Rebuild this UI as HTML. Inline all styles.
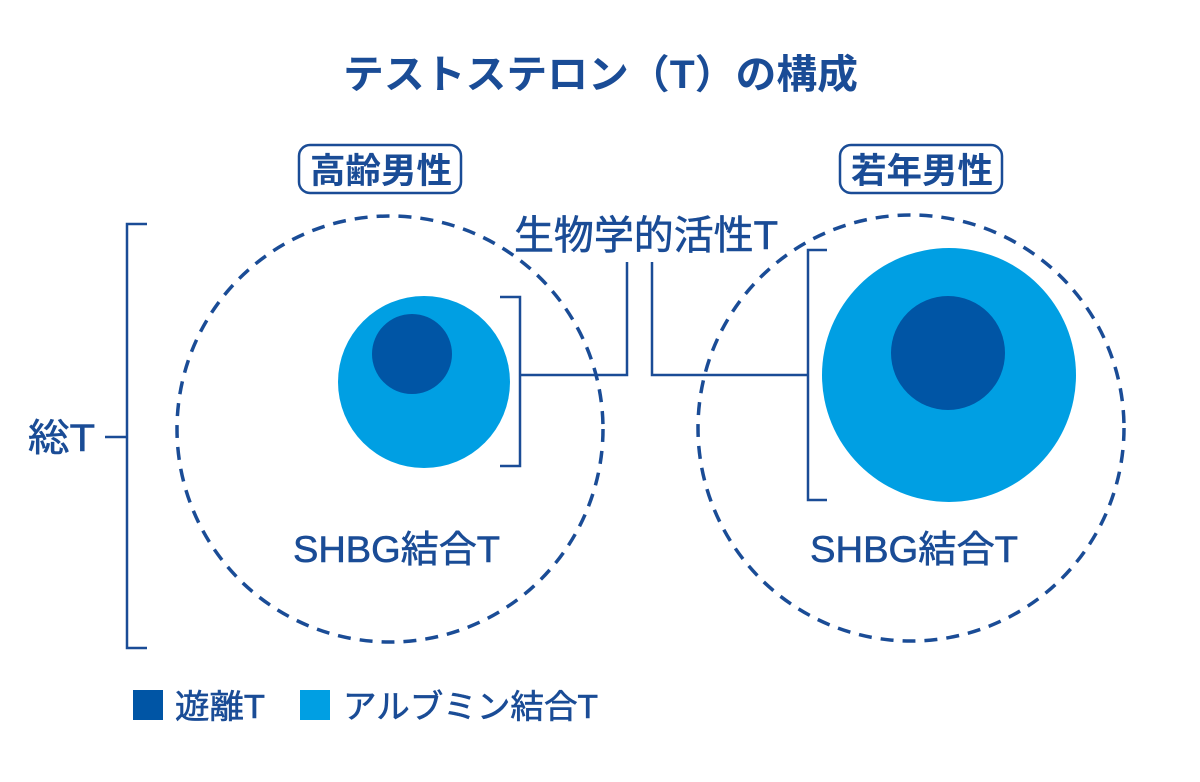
<!DOCTYPE html>
<html><head><meta charset="utf-8"><style>
html,body{margin:0;padding:0;background:#fff}
svg text{font-family:"Liberation Sans","Noto Sans CJK JP",sans-serif;fill:#1a4c96}
.m{stroke:#1a4c96;stroke-width:0.6}
</style></head><body>
<svg width="1200" height="777" viewBox="0 0 1200 777" xmlns="http://www.w3.org/2000/svg">
<text x="343" y="88" font-size="40" font-weight="bold" textLength="515" lengthAdjust="spacingAndGlyphs">テストステロン（T）の構成</text>
<rect x="299" y="145" width="162" height="48" rx="11" fill="none" stroke="#1a4c96" stroke-width="2.5"/>
<text x="310" y="183" font-size="35" font-weight="bold" textLength="142" lengthAdjust="spacingAndGlyphs">高齢男性</text>
<rect x="840" y="145" width="162" height="48" rx="11" fill="none" stroke="#1a4c96" stroke-width="2.5"/>
<text x="851" y="183" font-size="35" font-weight="bold" textLength="142" lengthAdjust="spacingAndGlyphs">若年男性</text>
<circle cx="390" cy="429" r="213" fill="none" stroke="#1a4c96" stroke-width="3.5" stroke-dasharray="13 9"/>
<circle cx="911" cy="428" r="213" fill="none" stroke="#1a4c96" stroke-width="3.5" stroke-dasharray="13 9"/>
<circle cx="424" cy="382" r="86" fill="#009fe3"/>
<circle cx="412" cy="354" r="40" fill="#0055a5"/>
<circle cx="949" cy="375" r="127" fill="#009fe3"/>
<circle cx="948" cy="353" r="57" fill="#0055a5"/>
<g fill="none" stroke="#1a4c96" stroke-width="2.5">
<polyline points="500,297 520,297 520,466 500,466"/>
<polyline points="520,375 627,375 627,262"/>
<polyline points="652,262 652,375 808,375"/>
<polyline points="827,250 808,250 808,500 827,500"/>
<polyline points="147,224 127,224 127,648 147,648"/>
<line x1="105" y1="437" x2="127" y2="437"/>
</g>
<text class="m" x="514" y="249" font-size="40" textLength="264" lengthAdjust="spacingAndGlyphs">生物学的活性T</text>
<text class="m" x="28" y="451" font-size="38" textLength="67" lengthAdjust="spacingAndGlyphs">総T</text>
<text class="m" x="293" y="562" font-size="37" textLength="207" lengthAdjust="spacingAndGlyphs">SHBG結合T</text>
<text class="m" x="810" y="562" font-size="37" textLength="208" lengthAdjust="spacingAndGlyphs">SHBG結合T</text>
<rect x="133" y="690" width="30" height="30" fill="#0055a5"/>
<text class="m" x="175" y="718" font-size="33" textLength="90" lengthAdjust="spacingAndGlyphs">遊離T</text>
<rect x="300" y="690" width="30" height="30" fill="#009fe3"/>
<text class="m" x="343" y="718" font-size="33" textLength="255" lengthAdjust="spacingAndGlyphs">アルブミン結合T</text>
</svg>
</body></html>
